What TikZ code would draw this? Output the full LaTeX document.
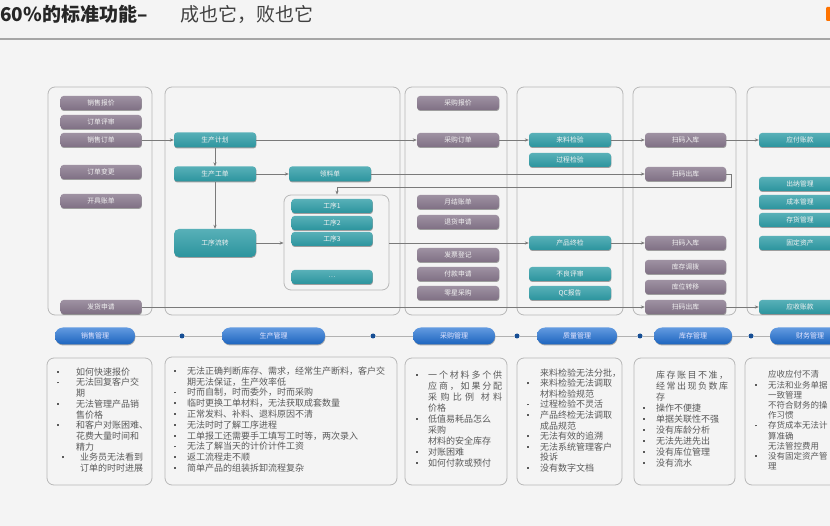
\documentclass[tikz,border=0pt]{standalone}
\usepackage{fontspec}
\setmainfont{Noto Sans CJK SC}
\usetikzlibrary{shadows,arrows.meta,calc}
\definecolor{bgc}{HTML}{F4F4F4}
\definecolor{purc}{HTML}{86768B}
\definecolor{teac}{HTML}{2E9CA6}
\definecolor{bluc}{HTML}{1F6FD3}
\definecolor{linec}{HTML}{7A7A7A}
\definecolor{panc}{HTML}{B8B8B8}
\definecolor{txtc}{HTML}{5A5A5A}
\newcommand\bl[1][11pt]{\makebox[0pt][r]{\raisebox{2.6pt}{\rule{1.8pt}{1.8pt}}\hspace{#1}}}
\tikzset{
 boxbase/.style={rounded corners=3pt, minimum width=81pt, minimum height=14pt, inner sep=0pt,
   text=white!90!gray, font=\fontsize{6.8}{7}\selectfont,
   drop shadow={shadow xshift=0.4pt, shadow yshift=-1pt, opacity=0.35, fill=black}},
 pbox/.style={boxbase, top color=purc!80!white, bottom color=purc!95!black},
 tbox/.style={boxbase, top color=teac!80!white, bottom color=teac!95!black},
 pill/.style={rounded corners=8pt, minimum height=17pt, inner sep=0pt,
   top color=bluc!70!white, bottom color=bluc!90!black, text=white!90!blue,
   font=\fontsize{7}{8}\selectfont,
   drop shadow={shadow xshift=0.4pt, shadow yshift=-1pt, opacity=0.3, fill=black}},
 panel/.style={draw=panc, line width=0.8pt, rounded corners=7pt},
 arr/.style={draw=linec, line width=0.8pt, -{Stealth[length=4pt,width=3.2pt]}},
 conn/.style={draw=linec, line width=0.8pt},
 dotn/.style={circle, fill=bluc!70!black, minimum size=5pt, inner sep=0pt},
 para/.style={anchor=north west, inner sep=0pt, align=left, text=txtc},
}
\begin{document}
\begin{tikzpicture}[x=1pt,y=-1pt]
\useasboundingbox (0,0) rectangle (830,526);
\clip (0,0) rectangle (830,526);
\fill[bgc] (0,0) rectangle (830,526);

% title
\node[anchor=west, inner sep=0pt, font=\fontsize{19}{20}\selectfont\bfseries, text=black!85] (t1) at (0,14) {60\%的标准功能–};
\node[anchor=west, inner sep=0pt, font=\fontsize{19}{20}\selectfont, text=black!75] (t2) at (180,14) {成也它，败也它};
\draw[gray!70, line width=1.4pt] (0,39) -- (830,39);
\fill[orange!90!red, rounded corners=1pt] (826,7) rectangle (834,21);

% panels
\draw[panel] (48,87) rectangle (152,315);
\draw[panel] (165,87) rectangle (400,315);
\draw[panel] (405,87) rectangle (507,315);
\draw[panel] (517,87) rectangle (623,315);
\draw[panel] (633,87) rectangle (736,315);
\draw[panel] (747,87) rectangle (870,315);

% sales
\node[pbox] (s1) at (101,103) {销售报价};
\node[pbox] (s2) at (101,122) {订单评审};
\node[pbox] (s3) at (101,140) {销售订单};
\node[pbox] (s4) at (101,172) {订单变更};
\node[pbox] (s5) at (101,201) {开具账单};
\node[pbox] (s6) at (101,307) {发货申请};

% production
\node[tbox, minimum width=82pt, minimum height=15pt] (p1) at (215,140) {生产计划};
\node[tbox, minimum width=82pt, minimum height=15pt] (p2) at (215,174) {生产工单};
\node[tbox, minimum width=82pt, minimum height=28pt, rounded corners=5pt] (p3) at (215,243) {工序流转};
\node[tbox, minimum width=82pt, minimum height=15pt] (p4) at (330,174) {领料单};
\node[panel, minimum width=105pt, minimum height=95pt, inner sep=0pt] (ib) at (336.5,242.5) {};
\node[tbox] (w1) at (332,206) {工序1};
\node[tbox] (w2) at (332,223) {工序2};
\node[tbox] (w3) at (332,239) {工序3};
\node[tbox] (w4) at (332,277) {…};

% purchasing
\node[pbox, minimum width=82pt] (c1) at (458,103) {采购报价};
\node[pbox, minimum width=82pt] (c2) at (458,140) {采购订单};
\node[pbox, minimum width=82pt] (c3) at (458,202) {月结账单};
\node[pbox, minimum width=82pt] (c4) at (458,222) {退货申请};
\node[pbox, minimum width=82pt] (c5) at (458,255) {发票登记};
\node[pbox, minimum width=82pt] (c6) at (458,274) {付款申请};
\node[pbox, minimum width=82pt] (c7) at (458,293) {零星采购};

% quality
\node[tbox, minimum width=82pt] (q1) at (570,140) {来料检验};
\node[tbox, minimum width=82pt] (q2) at (570,160) {过程检验};
\node[tbox, minimum width=82pt] (q3) at (570,243) {产品终检};
\node[tbox, minimum width=82pt] (q4) at (570,274) {不良评审};
\node[tbox, minimum width=82pt] (q5) at (570,293) {QC报告};

% inventory
\node[pbox] (i1) at (685.5,140) {扫码入库};
\node[pbox] (i2) at (685.5,174) {扫码出库};
\node[pbox] (i3) at (685.5,243) {扫码入库};
\node[pbox] (i4) at (685.5,267) {库存调拨};
\node[pbox] (i5) at (685.5,287) {库位转移};
\node[pbox] (i6) at (685.5,307) {扫码出库};

% finance
\node[tbox, minimum width=82pt] (f1) at (800,140) {应付账款};
\node[tbox, minimum width=82pt] (f2) at (800,184) {出纳管理};
\node[tbox, minimum width=82pt] (f3) at (800,202) {成本管理};
\node[tbox, minimum width=82pt] (f4) at (800,220) {存货管理};
\node[tbox, minimum width=82pt] (f5) at (800,243) {固定资产};
\node[tbox, minimum width=82pt] (f6) at (800,307) {应收账款};

% connectors
\draw[arr] (s3.east) -- (p1.west);
\draw[arr] (p1.south) -- (p2.north);
\draw[arr] (p2.south) -- (p3.north);
\draw[arr] (p2.east) -- (p4.west);
\draw[arr] (p3.east) -- (p3.east -| ib.west);
\draw[arr] (p1.east) -- (c2.west);
\draw[arr] (c2.east) -- (q1.west);
\draw[arr] (q1.east) -- (i1.west);
\draw[arr] (i1.east) -- (f1.west);
\draw[arr] (p4.east) -- (i2.west);
\coordinate (k1) at (337,187);
\draw[arr] (i2.east) -- ++(5,0) |- (k1) -- (k1 |- ib.north);
\draw[arr] (q3.west -| ib.east) -- (q3.west);
\draw[arr] (q3.east) -- (i3.west);
\draw[arr] (s6.east) -- (i6.west);
\draw[arr] (i6.east) -- (f6.west);

% bottom bar
\node[pill, minimum width=80pt] (b1) at (95,336) {销售管理};
\node[pill, minimum width=103pt] (b2) at (273.5,336) {生产管理};
\node[pill, minimum width=82pt] (b3) at (454,336) {采购管理};
\node[pill, minimum width=80pt] (b4) at (577,336) {质量管理};
\node[pill, minimum width=78pt] (b5) at (693,336) {库存管理};
\node[pill, minimum width=80pt] (b6) at (810,336) {财务管理};
\node[dotn] (d1) at (182,336) {};
\node[dotn] (d2) at (373,336) {};
\node[dotn] (d3) at (517,336) {};
\node[dotn] (d4) at (640,336) {};
\node[dotn] (d5) at (751,336) {};
\draw[conn, gray!60] (b1.east) -- (d1) -- (b2.west);
\draw[conn, gray!60] (b2.east) -- (d2) -- (b3.west);
\draw[conn, gray!60] (b3.east) -- (d3) -- (b4.west);
\draw[conn, gray!60] (b4.east) -- (d4) -- (b5.west);
\draw[conn, gray!60] (b5.east) -- (d5) -- (b6.west);

% text panels
\draw[panel] (47,358) rectangle (152,485);
\draw[panel] (165,357) rectangle (397,485);
\draw[panel] (405,358) rectangle (507,485);
\draw[panel] (517,358) rectangle (622,485);
\draw[panel] (634,358) rectangle (735,485);
\draw[panel] (745,358) rectangle (870,485);

\node[para, font=\fontsize{9}{10.7}\selectfont] (x1) at (76,367.5) {%
\bl[17pt]如何快速报价\\
\bl[17pt]无法回复客户交\\
期\\
\bl[17pt]无法管理产品销\\
售价格\\
\bl[17pt]和客户对账困难、\\
花费大量时间和\\
精力\\
\hspace{4pt}\bl[16pt]业务员无法看到\\
\hspace{4pt}订单的时时进展};

\node[para, font=\fontsize{9}{10.8}\selectfont] (x2) at (187,366.5) {%
\bl{}无法正确判断库存、需求，经常生产断料，客户交\\
期无法保证，生产效率低\\
\bl{}时而自制，时而委外，时而采购\\
\bl{}临时更换工单材料，无法获取成套数量\\
\bl{}正常发料、补料、退料原因不清\\
\bl{}无法时时了解工序进程\\
\bl{}工单报工还需要手工填写工时等，两次录入\\
\bl{}无法了解当天的计价计件工资\\
\bl{}返工流程走不顺\\
\bl{}简单产品的组装拆卸流程复杂};

\node[para, font=\fontsize{9}{11}\selectfont] (x3) at (428,370.5) {%
\bl[10pt]\makebox[74pt][l]{一\hfill 个\hfill 材\hfill 料\hfill 多\hfill 个\hfill 供}\\
\makebox[74pt][l]{应\hfill 商\hfill ，\hfill 如\hfill 果\hfill 分\hfill 配}\\
\makebox[74pt][l]{采\hfill 购\hfill 比\hfill 例\hfill\hfill 材\hfill 料}\\
价格\\
\bl[10pt]低值易耗品怎么\\
采购\\
材料的安全库存\\
\bl[10pt]对账困难\\
\bl[10pt]如何付款或预付};

\node[para, font=\fontsize{9}{10.55}\selectfont] (x4) at (540,368.5) {%
来料检验无法分批，\\
\bl{}来料检验无法调取\\
材料检验规范\\
\bl{}过程检验不灵活\\
\bl{}产品终检无法调取\\
成品规范\\
\bl{}无法有效的追溯\\
\bl{}无法系统管理客户\\
投诉\\
\bl{}没有数字文档};

\node[para, font=\fontsize{9}{11}\selectfont] (x5) at (656,370.5) {%
\makebox[72pt][l]{库\hfill 存\hfill 账\hfill 目\hfill 不\hfill 准\hfill ，}\\
\makebox[72pt][l]{经\hfill 常\hfill 出\hfill 现\hfill 负\hfill 数\hfill 库}\\
存\\
\bl{}操作不便捷\\
\bl{}单据关联性不强\\
\bl{}没有库龄分析\\
\bl{}无法先进先出\\
\bl{}没有库位管理\\
\bl{}没有流水};

\node[para, font=\fontsize{8.5}{10.2}\selectfont] (x6) at (768,370.5) {%
应收应付不清\\
\bl{}无法和业务单据\\
一致管理\\
不符合财务的操\\
作习惯\\
\bl{}存货成本无法计\\
算准确\\
无法管控费用\\
\bl{}没有固定资产管\\
理};
\end{tikzpicture}
\end{document}
